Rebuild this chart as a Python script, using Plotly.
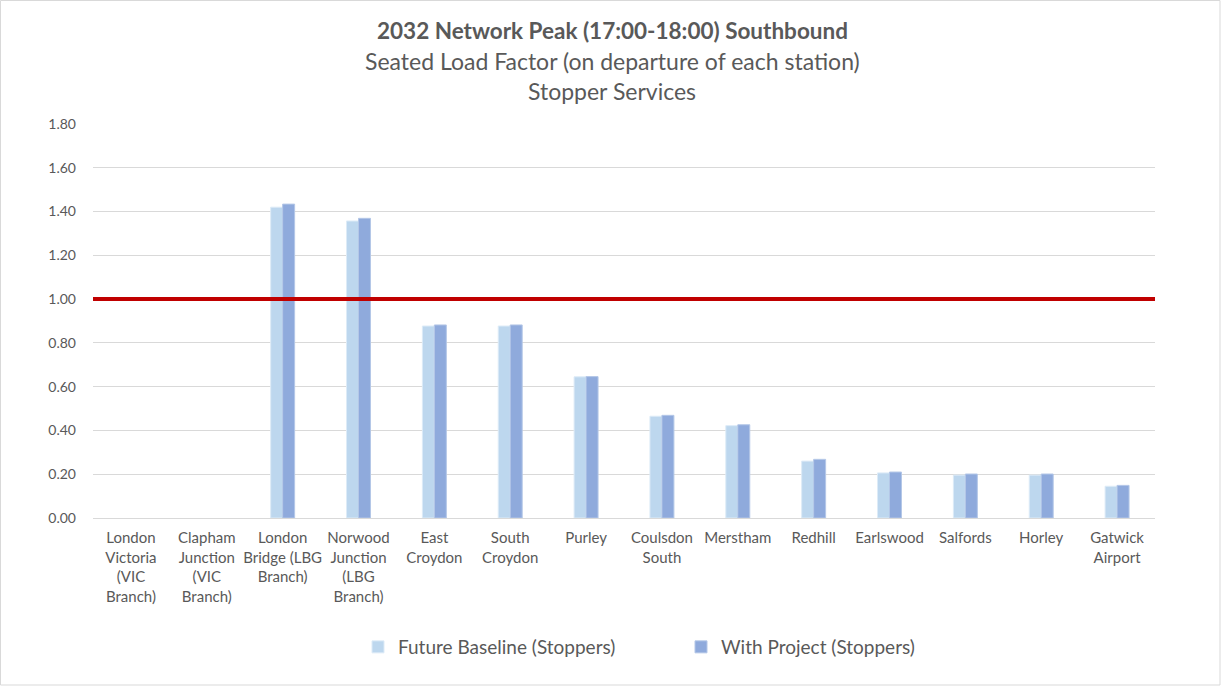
import plotly.graph_objects as go

stations = ["London<br>Victoria<br>(VIC<br>Branch)", "Clapham<br>Junction<br>(VIC<br>Branch)",
            "London<br>Bridge (LBG<br>Branch)", "Norwood<br>Junction<br>(LBG<br>Branch)",
            "East<br>Croydon", "South<br>Croydon", "Purley", "Coulsdon<br>South", "Merstham",
            "Redhill", "Earlswood", "Salfords", "Horley", "Gatwick<br>Airport"]
baseline = [None, None, 1.42, 1.357, 0.877, 0.877, 0.645, 0.465, 0.422, 0.26, 0.206, 0.196, 0.196, 0.145]
with_project = [None, None, 1.434, 1.369, 0.882, 0.882, 0.646, 0.469, 0.426, 0.268, 0.21, 0.201, 0.201, 0.149]
threshold = 1.0
yticks = [0, 0.2, 0.4, 0.6, 0.8, 1.0, 1.2, 1.4, 1.6, 1.8]
title_lines = ["<b>2032 Network Peak (17:00-18:00) Southbound</b>",
               "Seated Load Factor (on departure of each station)",
               "Stopper Services"]

W, H = 1222, 687
L, R, T, B = 93, 67, 124, 169
pw, ph = W - L - R, H - T - B
FONT = "Lato, 'Open Sans', sans-serif"
GREY = "#595959"

x = list(range(len(stations)))
fig = go.Figure()
fig.add_bar(x=x, y=baseline, name="Future Baseline (Stoppers)",
            marker=dict(color="#BDD7EE", line=dict(color="#DDEBF7", width=1)))
fig.add_bar(x=x, y=with_project, name="With Project (Stoppers)",
            marker=dict(color="#8FAADC", line=dict(color="#B4C7E7", width=1)))

fig.add_shape(type="line", xref="paper", yref="y", x0=0, x1=1, y0=threshold, y1=threshold,
              line=dict(color="#C00000", width=4), layer="above")
# chart border
fig.add_shape(type="rect", xref="paper", yref="paper",
              x0=(0.5 - L) / pw, x1=(W - 2 - L) / pw,
              y0=-(H - 2 - T - ph) / ph, y1=1 + (T - 0.5) / ph,
              line=dict(color="#D9D9D9", width=1), fillcolor="rgba(0,0,0,0)")

title_y = [31, 61, 91]
title_sizes = [22.5, 23, 23]
for txt, py, fs in zip(title_lines, title_y, title_sizes):
    fig.add_annotation(text=txt, xref="paper", yref="paper",
                       x=(612 - L) / pw, y=(T + ph - py) / ph,
                       xanchor="center", yanchor="middle", showarrow=False,
                       font=dict(family=FONT, size=fs, color=GREY))

fig.update_layout(
    width=W, height=H, margin=dict(l=L, r=R, t=T, b=B),
    paper_bgcolor="white", plot_bgcolor="white",
    barmode="group", bargap=0.684, bargroupgap=0,
    font=dict(family=FONT, size=15, color=GREY),
    showlegend=True,
    legend=dict(orientation="h", xref="paper", x=(681 - L) / pw, xanchor="center",
                yref="paper", y=-(647 - T - ph) / ph, yanchor="middle",
                font=dict(family=FONT, size=19, color=GREY),
                entrywidth=278, entrywidthmode="pixels", itemwidth=30),
    xaxis=dict(tickmode="array", tickvals=x, ticktext=stations, range=[-0.5, len(stations) - 0.5],
               showgrid=False, showline=False, zeroline=False, ticks="",
               ticklabelstandoff=9,
               tickfont=dict(family=FONT, size=15, color=GREY), tickangle=0),
    yaxis=dict(range=[0, 1.8], tickmode="array", tickvals=yticks,
               ticktext=[f"{v:.2f}" for v in yticks],
               showgrid=True, gridcolor="#D9D9D9", gridwidth=1,
               zeroline=True, zerolinecolor="#D9D9D9", zerolinewidth=1,
               showline=False, ticks="", ticklabelstandoff=16,
               tickfont=dict(family=FONT, size=14, color=GREY)),
)

fig.write_html("out.html", config={"displayModeBar": False},
               post_script="document.body.style.margin='0';")
